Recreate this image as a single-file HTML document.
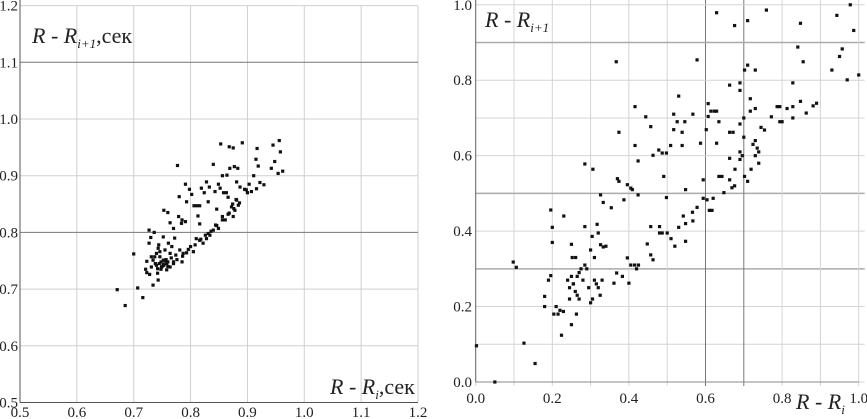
<!DOCTYPE html>
<html><head><meta charset="utf-8"><style>
html,body{margin:0;padding:0;background:#fff;width:867px;height:419px;overflow:hidden}
svg{display:block;font-family:"Liberation Serif","DejaVu Serif",serif}
svg text{font-family:"Liberation Serif","DejaVu Serif",serif !important;fill:#222}
</style></head><body>
<svg id="chart" width="867" height="419" viewBox="0 0 867 419" font-family="Liberation Serif, serif"></svg>
<script>
const leftXTicks=[0.5,0.6,0.7,0.8,0.9,1.0,1.1,1.2];
const leftYTicks=[0.5,0.6,0.7,0.8,0.9,1.0,1.1,1.2];
const leftX=[0.671,0.685,0.700,0.707,0.716,0.727,0.777,0.853,0.891,0.868,0.956,0.945,0.917,0.840,0.962,0.958,0.954,0.948,0.734,0.743,
0.730,0.736,0.727,0.723,0.721,0.723,0.728,0.744,0.752,0.753,0.760,0.764,0.770,0.780,0.779,0.785,0.791,0.793,0.798,0.802,0.784,0.791,0.806,0.811,0.816,0.813,0.816,0.819,0.824,0.828,0.831,0.833,0.843,0.846,0.849,0.852,0.856,0.858,0.863,0.864,0.869,0.875,0.877,0.881,0.883,0.887,0.895,0.900,0.903,0.911,0.915,0.919,0.922,0.916,0.929,0.942,
0.800,0.805,0.810,0.816,0.822,0.828,0.831,0.834,0.840,0.844,0.849,0.856,0.861,0.868,0.872,0.875,0.881,0.884,0.878,0.898,0.907,
0.774,0.781,0.787,0.793,0.785,0.770,0.764,0.758,0.752,0.746,0.740,0.734,0.731,0.749,0.755,0.761,0.767,0.746,0.740,0.737,0.758,0.764,0.743,0.731,0.748,0.752,0.757,0.742,0.766,0.772,
0.745,0.750,0.755,0.760,0.748,0.753,0.738,0.742,0.760,0.770,0.776,0.786,0.796,0.808,0.818,0.826,0.836,0.846,0.856,0.866,0.876,0.886,0.866,0.874,0.880];
const leftY=[0.699,0.671,0.762,0.702,0.685,0.804,0.918,0.956,0.958,0.951,0.962,0.954,0.948,0.920,0.908,0.942,0.904,0.925,0.707,0.716,
0.791,0.800,0.781,0.749,0.735,0.729,0.726,0.778,0.792,0.839,0.835,0.817,0.807,0.863,0.828,0.822,0.885,0.854,0.876,0.867,0.816,0.819,0.847,0.847,0.847,0.829,0.815,0.878,0.870,0.889,0.854,0.880,0.872,0.841,0.885,0.878,0.900,0.870,0.870,0.901,0.913,0.949,0.916,0.889,0.913,0.880,0.876,0.870,0.885,0.900,0.929,0.917,0.888,0.877,0.884,0.913,
0.775,0.766,0.789,0.786,0.781,0.789,0.798,0.795,0.804,0.813,0.807,0.828,0.822,0.834,0.845,0.828,0.857,0.848,0.839,0.875,0.872,
0.760,0.769,0.763,0.764,0.748,0.745,0.763,0.734,0.751,0.757,0.742,0.751,0.739,0.739,0.769,0.781,0.775,0.766,0.763,0.757,0.745,0.739,0.772,0.757,0.748,0.744,0.752,0.736,0.755,0.790,
0.745,0.740,0.750,0.748,0.735,0.742,0.745,0.728,0.740,0.748,0.752,0.758,0.770,0.778,0.788,0.795,0.802,0.812,0.822,0.832,0.842,0.852,0.862,0.850,0.858];
const rightXTicks=[0.0,0.2,0.4,0.6,0.8,1.0];
const rightYTicks=[0.0,0.2,0.4,0.6,0.8,1.0];
const rightX=[0.002,0.05,0.098,0.106,0.126,0.155,0.196,0.2,0.2,0.18,0.18,0.19,0.196,0.204,0.215,0.21,0.22,0.224,0.23,0.229,0.25,0.25,0.252,0.261,0.263,
0.24,0.245,0.25,0.255,0.26,0.265,0.27,0.275,0.28,0.245,0.255,0.265,0.27,0.285,0.29,0.295,0.3,0.305,0.31,0.315,0.32,0.325,0.33,
0.285,0.306,0.285,0.304,0.317,0.32,0.326,0.333,0.3,0.31,0.34,0.326,0.333,0.354,0.367,0.374,0.37,0.374,0.361,0.368,0.383,0.387,0.396,0.405,0.409,0.396,0.405,0.415,0.42,0.425,0.4,
0.416,0.416,0.424,0.424,0.444,0.457,0.463,0.478,0.487,0.498,0.491,0.498,0.448,0.457,0.457,0.463,0.48,0.48,0.487,0.509,0.517,0.517,0.526,0.53,0.539,0.539,0.546,0.548,0.5,0.51,0.52,0.53,0.548,0.542,0.548,0.566,0.567,0.578,0.567,0.578,0.587,0.594,0.594,0.604,0.61,0.617,0.602,0.607,0.607,0.614,0.623,0.629,0.629,0.629,0.635,0.635,0.643,0.62,0.648,0.663,0.663,0.672,0.663,0.663,0.669,0.676,0.676,0.677,0.69,0.69,0.69,0.69,0.69,0.696,0.7,0.7,0.702,0.702,0.71,0.71,0.71,0.717,0.717,0.719,0.724,0.73,0.73,0.735,0.739,0.73,0.73,0.739,0.745,0.754,0.759,0.772,0.787,0.794,0.794,0.8,0.813,0.828,0.828,0.828,0.841,0.848,0.848,0.855,0.863,0.881,0.89,0.93,0.943,0.95,0.957,0.97,0.978,0.987,1.0];
const rightY=[0.096,0.0,0.318,0.304,0.103,0.049,0.456,0.41,0.37,0.227,0.2,0.27,0.282,0.18,0.18,0.2,0.19,0.124,0.44,0.187,0.152,0.365,0.33,0.33,0.18,
0.27,0.25,0.28,0.26,0.24,0.28,0.22,0.3,0.27,0.22,0.26,0.23,0.29,0.31,0.3,0.25,0.21,0.22,0.27,0.26,0.25,0.23,0.27,
0.578,0.564,0.412,0.386,0.418,0.395,0.364,0.358,0.35,0.33,0.36,0.496,0.476,0.462,0.849,0.662,0.539,0.532,0.262,0.289,0.28,0.483,0.523,0.514,0.51,0.329,0.31,0.31,0.3,0.31,0.262,
0.73,0.627,0.586,0.496,0.703,0.677,0.601,0.615,0.607,0.607,0.545,0.489,0.366,0.412,0.337,0.324,0.412,0.395,0.395,0.627,0.71,0.669,0.69,0.758,0.662,0.627,0.69,0.51,0.395,0.38,0.36,0.41,0.373,0.44,0.42,0.45,0.427,0.463,0.71,0.854,0.633,0.536,0.487,0.483,0.455,0.455,0.669,0.738,0.704,0.718,0.718,0.979,0.718,0.633,0.69,0.545,0.545,0.487,0.502,0.787,0.662,0.662,0.593,0.536,0.515,0.52,0.945,0.564,0.793,0.773,0.684,0.61,0.59,0.6,0.7,0.649,0.827,0.545,0.84,0.958,0.532,0.751,0.718,0.564,0.63,0.64,0.6,0.62,0.58,0.827,0.725,0.61,0.675,0.668,0.986,0.703,0.73,0.73,0.69,0.69,0.725,0.73,0.793,0.7,0.888,0.951,0.744,0.849,0.713,0.732,0.739,0.827,0.972,0.863,0.883,0.801,1.0,0.932,0.814];

const NS="http://www.w3.org/2000/svg";
const svg=document.getElementById('chart');
function mk(tag,attrs,parent){const e=document.createElementNS(NS,tag);for(const k in attrs)e.setAttribute(k,attrs[k]);if(tag==='text')e.setAttribute('font-family','Liberation Serif, serif');(parent||svg).appendChild(e);return e;}

// ---- Left chart ----
const L={x0:20,x1:418,y0:402.5,y1:5.6,vx0:0.5,vx1:1.2,vy0:0.5,vy1:1.2};
const lx=v=>L.x0+(v-L.vx0)/(L.vx1-L.vx0)*(L.x1-L.x0);
const ly=v=>L.y0-(v-L.vy0)/(L.vy1-L.vy0)*(L.y0-L.y1);
const gL=mk('g',{});


for(const t of leftXTicks){
  const l=mk('line',{x1:lx(t),x2:lx(t),y1:L.y1,y2:L.y0,stroke:'#cfcfcf','stroke-width':1},gL);
  
  
  const tx=mk('text',{x:lx(t),y:417,'text-anchor':'middle','font-size':15},gL);
  tx.textContent=t.toFixed(1);
  
  
}
for(const t of leftYTicks){
  const dark=(Math.abs(t-0.8)<1e-6||Math.abs(t-1.1)<1e-6);
  const l=mk('line',{x1:L.x0,x2:L.x1,y1:ly(t),y2:ly(t),stroke:dark?'#777':'#cfcfcf','stroke-width':1},gL);
  
  
  const tx=mk('text',{x:18,y:ly(t)+5,'text-anchor':'end','font-size':15},gL);
  tx.textContent=t.toFixed(1);
  
  
}
const la=mk('line',{x1:L.x0,x2:L.x0,y1:0,y2:L.y0,stroke:'#555','stroke-width':1},gL);


const lb=mk('line',{x1:L.x0,x2:L.x1,y1:L.y0,y2:L.y0,stroke:'#555','stroke-width':1},gL);


for(let i=0;i<leftX.length;i++){
  const r=mk('rect',{x:lx(leftX[i])-1.6,y:ly(leftY[i])-1.6,width:3.2,height:3.2,fill:'#111'},gL);
  
  
}
// ---- Right chart ----
const R={x0:475.7,x1:858.7,y0:382,y1:4.8,vx0:0,vx1:1,vy0:0,vy1:1};
const rx=v=>R.x0+(v-R.vx0)/(R.vx1-R.vx0)*(R.x1-R.x0);
const ry=v=>R.y0-(v-R.vy0)/(R.vy1-R.vy0)*(R.y0-R.y1);
const gR=mk('g',{});


for(let k=0;k<=10;k++){
  const t=k/10;
  const dark=(k===6||k===7);
  const l=mk('line',{x1:rx(t),x2:rx(t),y1:0,y2:R.y0+4,stroke:dark?'#777':'#d4d4d4','stroke-width':1},gR);
  
  
  const dh=(k===9||k===5||k===3);
  const h=mk('line',{x1:R.x0,x2:R.x1+6,y1:ry(t),y2:ry(t),stroke:dh?'#aaa':'#d4d4d4','stroke-width':dh?1.5:1},gR);
  
  
}
for(const t of rightXTicks){
  const tx=mk('text',{x:rx(t),y:403,'text-anchor':'middle','font-size':15},gR);
  tx.textContent=t.toFixed(1);
  
  
}
for(const t of rightYTicks){
  const tx=mk('text',{x:472,y:ry(t)+5,'text-anchor':'end','font-size':15},gR);
  tx.textContent=t.toFixed(1);
  
  
}
const ra=mk('line',{x1:R.x0,x2:R.x0,y1:0,y2:R.y0,stroke:'#666','stroke-width':1},gR);


const rb=mk('line',{x1:R.x0,x2:R.x1,y1:R.y0,y2:R.y0,stroke:'#888','stroke-width':1},gR);


for(let i=0;i<rightX.length;i++){
  const r=mk('rect',{x:rx(rightX[i])-1.6,y:ry(rightY[i])-1.6,width:3.2,height:3.2,fill:'#111'},gR);
  
  
}
// ---- Axis titles ----
function title(x,y,main,sub,suffix,name){
  const t=mk('text',{x:x,y:y,'font-size':22});
  
  
  const a=mk('tspan',{'font-style':'italic'},t);a.textContent=main;
  const b=mk('tspan',{'font-style':'italic','font-size':13,dy:5},t);b.textContent=sub;
  if(suffix){const c=mk('tspan',{dy:-5},t);c.textContent=suffix;}
}
title(32,43,'R - R','i+1',',сек','left-y-axis-title');
title(330,394,'R - R','i',',сек','left-x-axis-title');
title(485,27,'R - R','i+1','','right-y-axis-title');
title(796,409,'R - R','i','','right-x-axis-title');
</script>
</body></html>
